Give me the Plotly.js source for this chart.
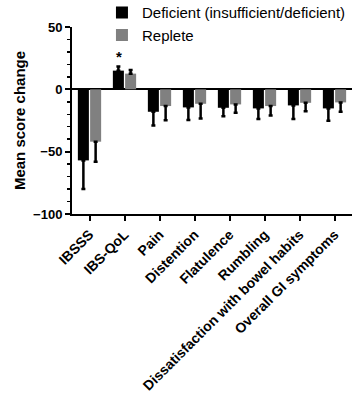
<!DOCTYPE html>
<html>
<head>
<meta charset="utf-8">
<script src="https://cdn.plot.ly/plotly-3.0.1.min.js"></script>
<style>html,body{margin:0;padding:0;background:#fff;}#chart{width:361px;height:393px;}</style>
</head>
<body>
<div id="chart"></div>
<script>
var categories = ["IBSSS", "IBS-QoL", "Pain", "Distention", "Flatulence", "Rumbling", "Dissatisfaction with bowel habits", "Overall GI symptoms"];
var deficientMean = [-57, 15, -18, -14.5, -14.8, -15.3, -12.9, -15.3];
var deficientErr = [23, 3.3, 11, 10, 6.7, 8.4, 10.8, 10];
var repleteMean = [-42, 12.6, -13.4, -11.6, -12.1, -13.4, -10.8, -10.5];
var repleteErr = [16, 3, 11.3, 11.8, 6.7, 7.6, 6.7, 7.5];
var seriesNames = ["Deficient (insufficient/deficient)", "Replete"];
var yTicks = [-100, -50, 0, 50];
var sigLabel = "*";

function upErr(m, e) { return m.map(function (v, i) { return v >= 0 ? e[i] : 0; }); }
function downErr(m, e) { return m.map(function (v, i) { return v < 0 ? e[i] : 0; }); }

var FONT = "Liberation Sans, Arial, sans-serif";

var traces = [
  {
    type: "bar", name: seriesNames[0], x: categories, y: deficientMean,
    marker: { color: "#000000" },
    error_y: { type: "data", symmetric: false, array: upErr(deficientMean, deficientErr), arrayminus: downErr(deficientMean, deficientErr), color: "#000000", thickness: 2.5, width: 2 }
  },
  {
    type: "bar", name: seriesNames[1], x: categories, y: repleteMean,
    marker: { color: "#808080" },
    error_y: { type: "data", symmetric: false, array: upErr(repleteMean, repleteErr), arrayminus: downErr(repleteMean, repleteErr), color: "#000000", thickness: 2.5, width: 2 }
  }
];

var layout = {
  width: 361, height: 393,
  margin: { l: 72, r: 9, t: 27, b: 179, autoexpand: false },
  paper_bgcolor: "#ffffff", plot_bgcolor: "#ffffff",
  font: { family: FONT, color: "#000000" },
  barmode: "group", bargap: 0.3, bargroupgap: 0.1,
  showlegend: true,
  legend: { x: 0.107, xanchor: "left", y: 1.165, yanchor: "top", bgcolor: "rgba(255,255,255,0)", font: { size: 15, family: FONT }, tracegroupgap: 0 },
  xaxis: {
    type: "category", range: [-0.5, 7.5], showline: true, linecolor: "#000", linewidth: 2,
    ticks: "outside", ticklen: 5, tickwidth: 2, tickcolor: "#000",
    tickangle: -45, tickfont: { size: 14, family: FONT, weight: "bold" },
    showgrid: false, zeroline: false, fixedrange: true, automargin: false
  },
  yaxis: {
    range: [-100, 50], tickvals: yTicks, ticktext: yTicks.map(function (v) { return v < 0 ? "\u2212" + Math.abs(v) : String(v); }),
    showline: true, linecolor: "#000", linewidth: 2,
    ticks: "outside", ticklen: 5, tickwidth: 2, tickcolor: "#000",
    minor: { dtick: 10, ticks: "outside", ticklen: 3, tickwidth: 1.5, tickcolor: "#000", showgrid: false },
    tickfont: { size: 13, family: FONT, weight: "bold" },
    showgrid: false, zeroline: true, zerolinecolor: "#000", zerolinewidth: 2,
    title: { text: "Mean score change", font: { size: 15, family: FONT, weight: "bold" }, standoff: 4 },
    fixedrange: true, automargin: false
  },
  annotations: [
    { x: categories[1], y: deficientMean[1] + deficientErr[1], xref: "x", yref: "y", xshift: -6, yshift: 0, yanchor: "bottom", showarrow: false, text: sigLabel, font: { size: 15, family: FONT, weight: "bold" } }
  ]
};

Plotly.newPlot("chart", traces, layout, { displayModeBar: false, staticPlot: true });
</script>
</body>
</html>
